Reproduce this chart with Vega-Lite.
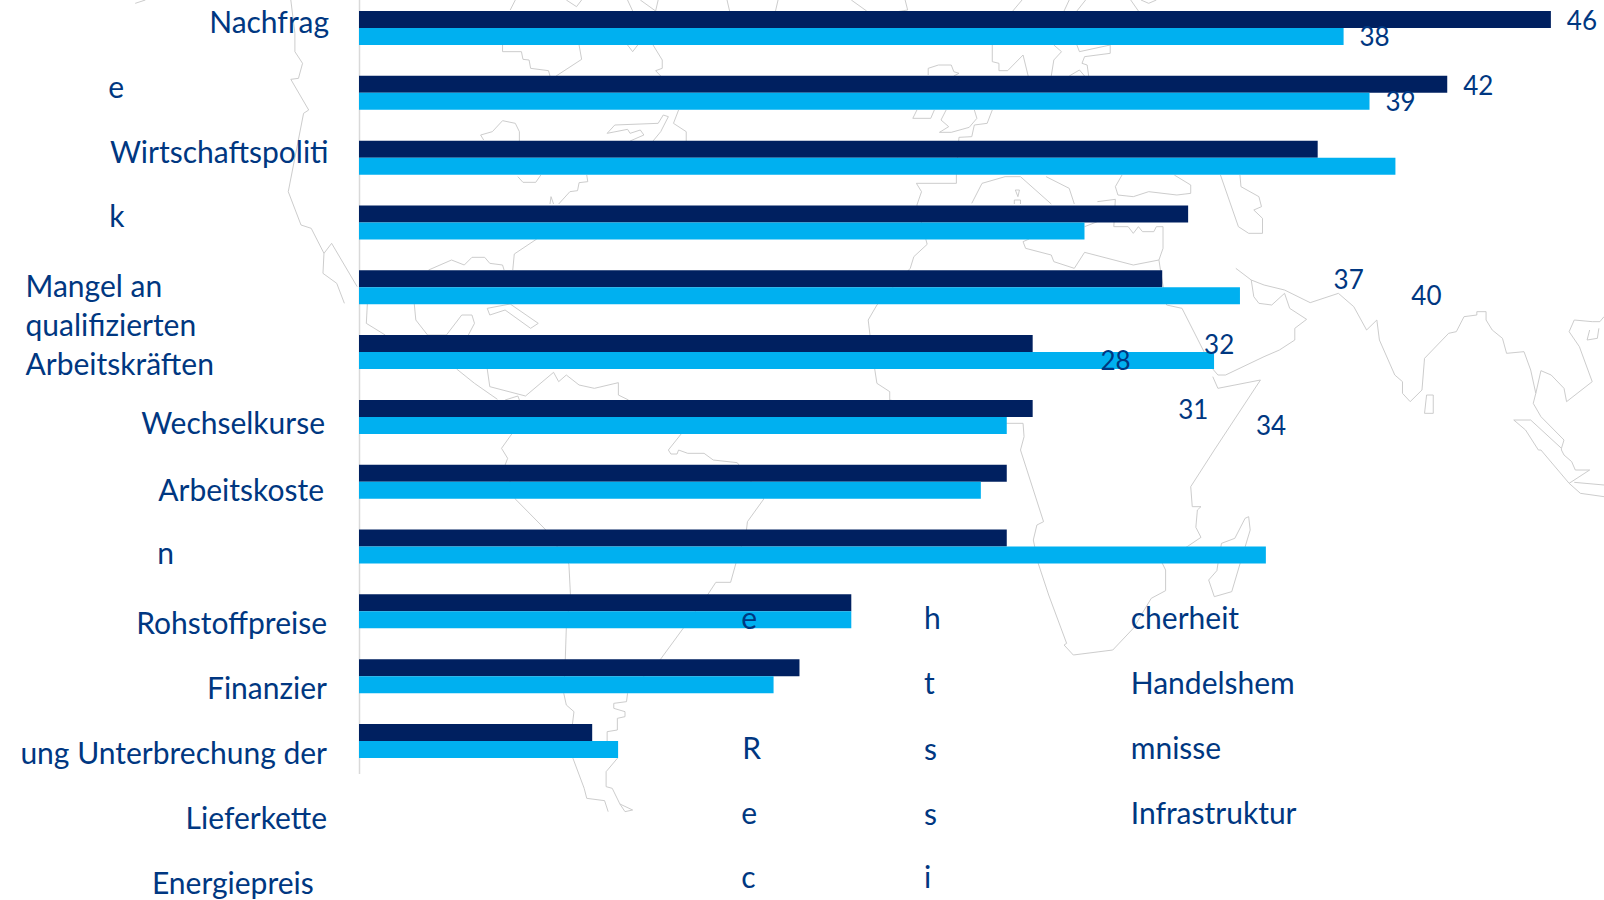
{"$schema":"https://vega.github.io/schema/vega-lite/v6.json","width":1604,"height":900,"padding":0,"autosize":"none","background":"white","config":{"view":{"stroke":null}},
"datasets":{
"bars":[{"kategorie":"Nachfrage","reihe":"A","wert":46},{"kategorie":"Nachfrage","reihe":"B","wert":38},{"kategorie":"Wirtschaftspolitik","reihe":"A","wert":42},{"kategorie":"Wirtschaftspolitik","reihe":"B","wert":39},{"kategorie":"Mangel an qualifizierten Arbeitskräften","reihe":"A","wert":37},{"kategorie":"Mangel an qualifizierten Arbeitskräften","reihe":"B","wert":40},{"kategorie":"Wechselkurse","reihe":"A","wert":32},{"kategorie":"Wechselkurse","reihe":"B","wert":28},{"kategorie":"Arbeitskosten","reihe":"A","wert":31},{"kategorie":"Arbeitskosten","reihe":"B","wert":34},{"kategorie":"Rohstoffpreise","reihe":"A","wert":26},{"kategorie":"Rohstoffpreise","reihe":"B","wert":33},{"kategorie":"Finanzierung","reihe":"A","wert":26},{"kategorie":"Finanzierung","reihe":"B","wert":25},{"kategorie":"Unterbrechung der Lieferkette","reihe":"A","wert":25},{"kategorie":"Unterbrechung der Lieferkette","reihe":"B","wert":24},{"kategorie":"Energiepreise","reihe":"A","wert":25},{"kategorie":"Energiepreise","reihe":"B","wert":35},{"kategorie":"Rechtssicherheit","reihe":"A","wert":19},{"kategorie":"Rechtssicherheit","reihe":"B","wert":19},{"kategorie":"Handelshemmnisse","reihe":"A","wert":17},{"kategorie":"Handelshemmnisse","reihe":"B","wert":16},{"kategorie":"Infrastruktur","reihe":"A","wert":9},{"kategorie":"Infrastruktur","reihe":"B","wert":10}],
"werte":[{"zeile":"Nachfrage","reihe":"A","wert":46},{"zeile":"Nachfrage","reihe":"B","wert":38},{"zeile":"Wirtschaftspolitik","reihe":"A","wert":42},{"zeile":"Wirtschaftspolitik","reihe":"B","wert":39},{"zeile":"Arbeitskosten","reihe":"A","wert":37},{"zeile":"Arbeitskosten","reihe":"B","wert":40},{"zeile":"Rohstoffpreise","reihe":"A","wert":32},{"zeile":"Rohstoffpreise","reihe":"B","wert":28},{"zeile":"Finanzierung","reihe":"A","wert":31},{"zeile":"Finanzierung","reihe":"B","wert":34}],
"texte":[{"t":"Nachfrag","X":645,"Y":93,"s":"r"},{"t":"Wirtschaftspoliti","X":644,"Y":483,"s":"r"},{"t":"Wechselkurse","X":637,"Y":1298,"s":"r"},{"t":"Arbeitskoste","X":635,"Y":1498,"s":"r"},{"t":"Rohstoffpreise","X":641,"Y":1898,"s":"r"},{"t":"Finanzier","X":641,"Y":2093,"s":"r"},{"t":"ung Unterbrechung der","X":641,"Y":2288,"s":"r"},{"t":"Lieferkette","X":641,"Y":2483,"s":"r"},{"t":"Energiepreis","X":615,"Y":2678,"s":"r"},{"t":"e","X":212,"Y":290,"s":"l"},{"t":"k","X":214,"Y":677,"s":"l"},{"t":"Mangel an","X":50,"Y":887,"s":"l"},{"t":"qualifizierten","X":50,"Y":1003,"s":"l"},{"t":"Arbeitskräften","X":50,"Y":1120,"s":"l"},{"t":"n","X":308,"Y":1688,"s":"l"},{"t":"e","X":1453,"Y":1883,"s":"l"},{"t":"R","X":1455,"Y":2272,"s":"l"},{"t":"e","X":1453,"Y":2468,"s":"l"},{"t":"c","X":1453,"Y":2660,"s":"l"},{"t":"h","X":1810,"Y":1883,"s":"l"},{"t":"t","X":1810,"Y":2078,"s":"l"},{"t":"s","X":1810,"Y":2275,"s":"l"},{"t":"s","X":1810,"Y":2470,"s":"l"},{"t":"i","X":1810,"Y":2658,"s":"l"},{"t":"cherheit","X":2213,"Y":1883,"s":"l"},{"t":"Handelshem","X":2213,"Y":2078,"s":"l"},{"t":"mnisse","X":2213,"Y":2273,"s":"l"},{"t":"Infrastruktur","X":2213,"Y":2468,"s":"l"}],
"karte":[
{"g":"a","X":570,"Y":0},{"g":"a","X":578,"Y":100},{"g":"a","X":578,"Y":155},{"g":"a","X":593,"Y":190},{"g":"a","X":585,"Y":235},{"g":"a","X":570,"Y":238},{"g":"a","X":605,"Y":330},{"g":"a","X":595,"Y":340},{"g":"a","X":565,"Y":575},{"g":"a","X":590,"Y":675},{"g":"a","X":610,"Y":685},{"g":"a","X":635,"Y":760},{"g":"a","X":633,"Y":820},{"g":"a","X":660,"Y":850},{"g":"a","X":675,"Y":910},
{"g":"b","X":635,"Y":760},{"g":"b","X":650,"Y":730},{"g":"b","X":700,"Y":860},
{"g":"d","X":985,"Y":135},{"g":"d","X":985,"Y":155},{"g":"d","X":1022,"Y":155},{"g":"d","X":1025,"Y":178},{"g":"d","X":1037,"Y":180},{"g":"d","X":1040,"Y":205},{"g":"d","X":1075,"Y":212},{"g":"d","X":1078,"Y":228},
{"g":"e","X":1135,"Y":135},{"g":"e","X":1140,"Y":178},{"g":"e","X":1090,"Y":228},
{"g":"f","X":1230,"Y":135},{"g":"f","X":1240,"Y":155},{"g":"f","X":1250,"Y":135},
{"g":"g","X":1280,"Y":135},{"g":"g","X":1298,"Y":180},{"g":"g","X":1298,"Y":205},{"g":"g","X":1285,"Y":212},{"g":"g","X":1295,"Y":228},
{"g":"h","X":1330,"Y":330},{"g":"h","X":1320,"Y":370},{"g":"h","X":1345,"Y":395},{"g":"h","X":1345,"Y":423},
{"g":"i","X":1280,"Y":423},{"g":"i","X":1295,"Y":395},{"g":"i","X":1310,"Y":350},{"g":"i","X":1300,"Y":345},{"g":"i","X":1290,"Y":370},{"g":"i","X":1205,"Y":375},{"g":"i","X":1190,"Y":400},{"g":"i","X":1230,"Y":388},{"g":"i","X":1235,"Y":400},{"g":"i","X":1255,"Y":390},{"g":"i","X":1262,"Y":405},{"g":"i","X":1235,"Y":423},
{"g":"j","X":948,"Y":420},{"g":"j","X":942,"Y":405},{"g":"j","X":965,"Y":395},{"g":"j","X":985,"Y":362},{"g":"j","X":1010,"Y":370},{"g":"j","X":1018,"Y":395},{"g":"j","X":1018,"Y":423},
{"g":"k","X":1015,"Y":530},{"g":"k","X":1025,"Y":547},{"g":"k","X":1050,"Y":547},{"g":"k","X":1060,"Y":525},
{"g":"l","X":1150,"Y":525},{"g":"l","X":1152,"Y":545},{"g":"l","X":1135,"Y":548},{"g":"l","X":1132,"Y":572},{"g":"l","X":1117,"Y":575},{"g":"l","X":1095,"Y":612},
{"g":"m","X":1078,"Y":612},{"g":"m","X":1080,"Y":590},{"g":"m","X":1085,"Y":612},
{"g":"n","X":1052,"Y":717},{"g":"n","X":1008,"Y":762},{"g":"n","X":1005,"Y":810},
{"g":"o","X":840,"Y":810},{"g":"o","X":885,"Y":780},{"g":"o","X":910,"Y":795},{"g":"o","X":925,"Y":772},{"g":"o","X":950,"Y":772},{"g":"o","X":960,"Y":790},{"g":"o","X":985,"Y":795},{"g":"o","X":988,"Y":810},
{"g":"p","X":720,"Y":912},{"g":"p","X":718,"Y":970},{"g":"p","X":755,"Y":1005},
{"g":"q","X":812,"Y":912},{"g":"q","X":815,"Y":960},{"g":"q","X":838,"Y":1005},{"g":"q","X":875,"Y":1005},{"g":"q","X":905,"Y":945},{"g":"q","X":925,"Y":945},{"g":"q","X":930,"Y":970},{"g":"q","X":918,"Y":1005},
{"g":"r","X":1000,"Y":912},{"g":"r","X":955,"Y":925},{"g":"r","X":960,"Y":945},{"g":"r","X":990,"Y":930},{"g":"r","X":1040,"Y":985},{"g":"r","X":1055,"Y":970},{"g":"r","X":1000,"Y":912},
{"g":"s","X":895,"Y":1107},{"g":"s","X":930,"Y":1150},{"g":"s","X":975,"Y":1198},
{"g":"t","X":955,"Y":1107},{"g":"t","X":960,"Y":1160},{"g":"t","X":1030,"Y":1188},{"g":"t","X":1085,"Y":1117},{"g":"t","X":1095,"Y":1145},{"g":"t","X":1110,"Y":1125},{"g":"t","X":1135,"Y":1155},{"g":"t","X":1165,"Y":1165},{"g":"t","X":1212,"Y":1148},{"g":"t","X":1212,"Y":1185},{"g":"t","X":1232,"Y":1200},
{"g":"u","X":990,"Y":1200},{"g":"u","X":1015,"Y":1188},{"g":"u","X":1018,"Y":1200},
{"g":"sw","X":1003,"Y":1302},{"g":"sw","X":983,"Y":1345},{"g":"sw","X":995,"Y":1375},{"g":"sw","X":990,"Y":1395},{"g":"sw","X":1010,"Y":1497},{"g":"sw","X":1070,"Y":1590},{"g":"sw","X":1115,"Y":1692},{"g":"sw","X":1118,"Y":1782},{"g":"sw","X":1110,"Y":1883},{"g":"sw","X":1108,"Y":1977},{"g":"sw","X":1105,"Y":2080},{"g":"sw","X":1110,"Y":2115},{"g":"sw","X":1125,"Y":2135},{"g":"sw","X":1122,"Y":2172},{"g":"sw","X":1123,"Y":2275},{"g":"sw","X":1145,"Y":2365},{"g":"sw","X":1150,"Y":2395},{"g":"sw","X":1185,"Y":2402},{"g":"sw","X":1192,"Y":2435},
{"g":"se","X":1335,"Y":1302},{"g":"se","X":1310,"Y":1350},{"g":"se","X":1315,"Y":1362},{"g":"se","X":1327,"Y":1362},{"g":"se","X":1330,"Y":1350},{"g":"se","X":1348,"Y":1360},{"g":"se","X":1380,"Y":1360},{"g":"se","X":1398,"Y":1380},{"g":"se","X":1445,"Y":1388},{"g":"se","X":1497,"Y":1497},{"g":"se","X":1465,"Y":1565},{"g":"se","X":1463,"Y":1590},{"g":"se","X":1442,"Y":1692},{"g":"se","X":1432,"Y":1747},{"g":"se","X":1403,"Y":1747},{"g":"se","X":1388,"Y":1782},{"g":"se","X":1340,"Y":1883},{"g":"se","X":1295,"Y":1977},{"g":"se","X":1230,"Y":2080},{"g":"se","X":1228,"Y":2105},{"g":"se","X":1203,"Y":2110},{"g":"se","X":1203,"Y":2125},{"g":"se","X":1225,"Y":2135},{"g":"se","X":1225,"Y":2150},{"g":"se","X":1210,"Y":2155},{"g":"se","X":1210,"Y":2190},{"g":"se","X":1190,"Y":2195},{"g":"se","X":1190,"Y":2223},{"g":"se","X":1210,"Y":2275},{"g":"se","X":1188,"Y":2315},{"g":"se","X":1188,"Y":2360},{"g":"se","X":1200,"Y":2365},{"g":"se","X":1215,"Y":2412},{"g":"se","X":1240,"Y":2430},{"g":"se","X":1225,"Y":2435},{"g":"se","X":1215,"Y":2412},
{"g":"a1","X":1773,"Y":0},{"g":"a1","X":1778,"Y":30},{"g":"a1","X":1758,"Y":35},
{"g":"a2","X":1668,"Y":0},{"g":"a2","X":1698,"Y":33},
{"g":"br","X":1818,"Y":225},{"g":"br","X":1818,"Y":205},{"g":"br","X":1838,"Y":195},{"g":"br","X":1863,"Y":195},{"g":"br","X":1868,"Y":215},{"g":"br","X":1878,"Y":220},{"g":"br","X":1868,"Y":228},
{"g":"ir","X":1796,"Y":330},{"g":"ir","X":1788,"Y":355},{"g":"ir","X":1823,"Y":355},{"g":"ir","X":1830,"Y":330},
{"g":"b2","X":1853,"Y":330},{"g":"b2","X":1843,"Y":360},{"g":"b2","X":1858,"Y":380},{"g":"b2","X":1840,"Y":397},{"g":"b2","X":1863,"Y":397},{"g":"b2","X":1898,"Y":382},{"g":"b2","X":1913,"Y":355},{"g":"b2","X":1908,"Y":330},
{"g":"af","X":1943,"Y":330},{"g":"af","X":1933,"Y":370},{"g":"af","X":1908,"Y":375},{"g":"af","X":1903,"Y":410},{"g":"af","X":1878,"Y":412},{"g":"af","X":1873,"Y":525},{"g":"af","X":1873,"Y":550},{"g":"af","X":1795,"Y":550},{"g":"af","X":1805,"Y":575},{"g":"af","X":1796,"Y":615},{"g":"af","X":1816,"Y":733},{"g":"af","X":1790,"Y":770},{"g":"af","X":1783,"Y":805},{"g":"af","X":1718,"Y":915},{"g":"af","X":1701,"Y":960},{"g":"af","X":1708,"Y":1050},{"g":"af","X":1718,"Y":1150},{"g":"af","X":1743,"Y":1175},{"g":"af","X":1743,"Y":1200},{"g":"af","X":1970,"Y":1270},{"g":"af","X":2003,"Y":1270},{"g":"af","X":2005,"Y":1310},{"g":"af","X":1998,"Y":1350},{"g":"af","X":2043,"Y":1565},{"g":"af","X":2030,"Y":1575},{"g":"af","X":2023,"Y":1620},{"g":"af","X":2033,"Y":1692},{"g":"af","X":2053,"Y":1785},{"g":"af","X":2088,"Y":1930},{"g":"af","X":2083,"Y":1935},{"g":"af","X":2101,"Y":1965},{"g":"af","X":2178,"Y":1950},{"g":"af","X":2218,"Y":1885},{"g":"af","X":2253,"Y":1795},{"g":"af","X":2281,"Y":1772},{"g":"af","X":2281,"Y":1710},{"g":"af","X":2273,"Y":1685},{"g":"af","X":2323,"Y":1640},{"g":"af","X":2350,"Y":1612},{"g":"af","X":2340,"Y":1582},{"g":"af","X":2343,"Y":1530},{"g":"af","X":2350,"Y":1520},{"g":"af","X":2333,"Y":1520},{"g":"af","X":2330,"Y":1460},{"g":"af","X":2376,"Y":1350},{"g":"af","X":2466,"Y":1140},{"g":"af","X":2383,"Y":1165},{"g":"af","X":2373,"Y":1130},
{"g":"ar","X":2418,"Y":805},{"g":"ar","X":2448,"Y":840},{"g":"ar","X":2453,"Y":890},{"g":"ar","X":2463,"Y":910},{"g":"ar","X":2488,"Y":915},{"g":"ar","X":2513,"Y":880},{"g":"ar","X":2523,"Y":925},{"g":"ar","X":2556,"Y":958},{"g":"ar","X":2533,"Y":985},{"g":"ar","X":2533,"Y":1020},{"g":"ar","X":2503,"Y":1050},{"g":"ar","X":2473,"Y":1070},{"g":"ar","X":2398,"Y":1125},{"g":"ar","X":2383,"Y":1125},{"g":"ar","X":2373,"Y":1107},{"g":"ar","X":2313,"Y":925},{"g":"ar","X":2283,"Y":915},{"g":"ar","X":2274,"Y":840},{"g":"ar","X":2268,"Y":780},
{"g":"as","X":2448,"Y":840},{"g":"as","X":2473,"Y":855},{"g":"as","X":2513,"Y":870},{"g":"as","X":2563,"Y":908},{"g":"as","X":2618,"Y":880},{"g":"as","X":2648,"Y":920},{"g":"as","X":2673,"Y":990},{"g":"as","X":2693,"Y":960},{"g":"as","X":2698,"Y":1020},{"g":"as","X":2728,"Y":1125},{"g":"as","X":2743,"Y":1145},{"g":"as","X":2743,"Y":1180},{"g":"as","X":2758,"Y":1205},{"g":"as","X":2781,"Y":1170},{"g":"as","X":2786,"Y":1075},{"g":"as","X":2833,"Y":1000},{"g":"as","X":2848,"Y":995},{"g":"as","X":2863,"Y":950},{"g":"as","X":2888,"Y":945},{"g":"as","X":2888,"Y":935},{"g":"as","X":2906,"Y":935},{"g":"as","X":2906,"Y":960},{"g":"as","X":2918,"Y":990},{"g":"as","X":2938,"Y":1015},{"g":"as","X":2946,"Y":1060},{"g":"as","X":2980,"Y":1055},{"g":"as","X":2993,"Y":1110},{"g":"as","X":3003,"Y":1180},{"g":"as","X":2998,"Y":1210},{"g":"as","X":3013,"Y":1250},{"g":"as","X":3058,"Y":1320},{"g":"as","X":3053,"Y":1345},
{"g":"sl","X":2790,"Y":1185},{"g":"sl","X":2803,"Y":1185},{"g":"sl","X":2803,"Y":1240},{"g":"sl","X":2786,"Y":1240},{"g":"sl","X":2790,"Y":1185},
{"g":"th","X":3003,"Y":1180},{"g":"th","X":3013,"Y":1112},{"g":"th","X":3033,"Y":1125},{"g":"th","X":3058,"Y":1165},{"g":"th","X":3063,"Y":1205},{"g":"th","X":3113,"Y":1145},{"g":"th","X":3088,"Y":1040},{"g":"th","X":3068,"Y":995},{"g":"th","X":3078,"Y":960},{"g":"th","X":3113,"Y":965},{"g":"th","X":3128,"Y":965},{"g":"th","X":3136,"Y":950},
{"g":"vn","X":3108,"Y":990},{"g":"vn","X":3103,"Y":1020},{"g":"vn","X":3123,"Y":1015},{"g":"vn","X":3126,"Y":985},
{"g":"su","X":2960,"Y":1260},{"g":"su","X":2993,"Y":1260},{"g":"su","X":3053,"Y":1345},{"g":"su","X":3053,"Y":1350},{"g":"su","X":3058,"Y":1365},{"g":"su","X":3073,"Y":1385},{"g":"su","X":3080,"Y":1410},{"g":"su","X":3108,"Y":1410},{"g":"su","X":3068,"Y":1450},{"g":"su","X":3013,"Y":1350},{"g":"su","X":3008,"Y":1350},{"g":"su","X":2983,"Y":1290},{"g":"su","X":2960,"Y":1260},
{"g":"bo","X":3068,"Y":1450},{"g":"bo","X":3090,"Y":1480},{"g":"bo","X":3136,"Y":1490},
{"g":"bo2","X":3078,"Y":1447},{"g":"bo2","X":3136,"Y":1455},
{"g":"me","X":2148,"Y":605},{"g":"me","X":2183,"Y":598},{"g":"me","X":2180,"Y":680},{"g":"me","X":2208,"Y":680},{"g":"me","X":2218,"Y":700},{"g":"me","X":2228,"Y":680},{"g":"me","X":2236,"Y":695},{"g":"me","X":2258,"Y":695},{"g":"me","X":2263,"Y":680},{"g":"me","X":2276,"Y":680},{"g":"me","X":2276,"Y":745},{"g":"me","X":2268,"Y":780},{"g":"me","X":2218,"Y":795},{"g":"me","X":2123,"Y":757},{"g":"me","X":2103,"Y":805},{"g":"me","X":2063,"Y":785},{"g":"me","X":2058,"Y":765},{"g":"me","X":2008,"Y":745},{"g":"me","X":2003,"Y":725},{"g":"me","X":2015,"Y":717},
{"g":"m2","X":2123,"Y":680},{"g":"m2","X":2148,"Y":665},
{"g":"bs","X":2196,"Y":525},{"g":"bs","X":2183,"Y":560},{"g":"bs","X":2188,"Y":585},{"g":"bs","X":2218,"Y":590},{"g":"bs","X":2248,"Y":575},{"g":"bs","X":2303,"Y":585},{"g":"bs","X":2330,"Y":580},{"g":"bs","X":2330,"Y":555},{"g":"bs","X":2298,"Y":525},
{"g":"cs","X":2388,"Y":525},{"g":"cs","X":2423,"Y":680},{"g":"cs","X":2443,"Y":700},{"g":"cs","X":2470,"Y":700},{"g":"cs","X":2470,"Y":655},{"g":"cs","X":2453,"Y":630},{"g":"cs","X":2468,"Y":620},{"g":"cs","X":2463,"Y":590},{"g":"cs","X":2428,"Y":560},{"g":"cs","X":2426,"Y":525},
{"g":"it","X":1903,"Y":610},{"g":"it","X":1923,"Y":550},{"g":"it","X":1968,"Y":530},{"g":"it","X":1998,"Y":530},{"g":"it","X":2058,"Y":612},
{"g":"i2","X":2048,"Y":530},{"g":"i2","X":2093,"Y":565},{"g":"i2","X":2103,"Y":612},
{"g":"sa","X":1988,"Y":570},{"g":"sa","X":1993,"Y":590},{"g":"sa","X":1996,"Y":570},{"g":"sa","X":1988,"Y":570},
{"g":"sc","X":1986,"Y":612},{"g":"sc","X":1986,"Y":600},{"g":"sc","X":1998,"Y":600},{"g":"sc","X":1998,"Y":612},
{"g":"n1","X":1943,"Y":135},{"g":"n1","X":1943,"Y":185},{"g":"n1","X":1956,"Y":190},{"g":"n1","X":1956,"Y":212},{"g":"n1","X":1973,"Y":212},{"g":"n1","X":2003,"Y":165},{"g":"n1","X":2013,"Y":228},
{"g":"n2","X":2063,"Y":135},{"g":"n2","X":2078,"Y":155},{"g":"n2","X":2063,"Y":180},{"g":"n2","X":2058,"Y":228},
{"g":"n3","X":2108,"Y":135},{"g":"n3","X":2113,"Y":155},{"g":"n3","X":2173,"Y":135},{"g":"n3","X":2173,"Y":160},{"g":"n3","X":2123,"Y":170},{"g":"n3","X":2118,"Y":190},{"g":"n3","X":2128,"Y":195},{"g":"n3","X":2131,"Y":228},
{"g":"n4","X":2093,"Y":228},{"g":"n4","X":2113,"Y":210},{"g":"n4","X":2123,"Y":228},
{"g":"t1","X":2001,"Y":0},{"g":"t1","X":1983,"Y":33},
{"g":"t2","X":2093,"Y":0},{"g":"t2","X":2083,"Y":33},
{"g":"t3","X":2125,"Y":0},{"g":"t3","X":2108,"Y":33},
{"g":"t4","X":2213,"Y":0},{"g":"t4","X":2228,"Y":33},
{"g":"t5","X":2233,"Y":0},{"g":"t5","X":2248,"Y":10},{"g":"t5","X":2263,"Y":0},
{"g":"t6","X":1010,"Y":0},{"g":"t6","X":1000,"Y":30},
{"g":"t7","X":1110,"Y":0},{"g":"t7","X":1130,"Y":20},{"g":"t7","X":1140,"Y":0},
{"g":"t8","X":1230,"Y":0},{"g":"t8","X":1240,"Y":33},
{"g":"t9","X":1255,"Y":0},{"g":"t9","X":1285,"Y":33},{"g":"t9","X":1290,"Y":0},
{"g":"t10","X":1425,"Y":0},{"g":"t10","X":1430,"Y":33},
{"g":"t11","X":1525,"Y":0},{"g":"t11","X":1520,"Y":33},
{"g":"t12","X":285,"Y":0},{"g":"t12","X":265,"Y":10},
{"g":"ma","X":2443,"Y":1550},{"g":"ma","X":2446,"Y":1590},{"g":"ma","X":2426,"Y":1692},{"g":"ma","X":2410,"Y":1775},{"g":"ma","X":2376,"Y":1790},{"g":"ma","X":2365,"Y":1740},{"g":"ma","X":2381,"Y":1712},{"g":"ma","X":2383,"Y":1692},{"g":"ma","X":2390,"Y":1630},{"g":"ma","X":2416,"Y":1615},{"g":"ma","X":2436,"Y":1555},{"g":"ma","X":2443,"Y":1550}
]},
"resolve":{"scale":{"x":"independent","y":"independent","yOffset":"independent","color":"independent"},"axis":{"x":"independent","y":"independent"}},
"layer":[
{"data":{"name":"karte"},"mark":{"type":"line","order":null,"stroke":"#c6c6c6","strokeWidth":0.9,"clip":true},"encoding":{"detail":{"field":"g"},"x":{"field":"X","type":"quantitative","axis":null,"scale":{"domain":[0,1568,3136],"range":[0,800,1604],"nice":false,"zero":false}},"y":{"field":"Y","type":"quantitative","axis":null,"scale":{"domain":[0,2700],"range":[0,900],"nice":false,"zero":false}}}},
{"data":{"name":"bars"},"mark":{"type":"bar","clip":false},"encoding":{"x":{"field":"wert","type":"quantitative","axis":null,"scale":{"domain":[0,48.05],"range":[359,1604],"nice":false}},"y":{"field":"kategorie","type":"nominal","scale":{"domain":["Nachfrage","Wirtschaftspolitik","Mangel an qualifizierten Arbeitskräften","Wechselkurse","Arbeitskosten","Rohstoffpreise","Finanzierung","Unterbrechung der Lieferkette","Energiepreise","Rechtssicherheit","Handelshemmnisse","Infrastruktur"],"range":[-4.4,773.4],"paddingInner":0.475,"paddingOuter":0.2375},"axis":{"title":null,"labels":false,"ticks":false,"domainColor":"#d9d9d9","domainWidth":1.5,"grid":false,"offset":-359}},"yOffset":{"field":"reihe","type":"nominal","scale":{"domain":["A","B"],"paddingInner":0,"paddingOuter":0}},"color":{"field":"reihe","type":"nominal","legend":null,"scale":{"domain":["A","B"],"range":["#002060","#00B0F0"]}}}},
{"data":{"name":"werte"},"mark":{"type":"text","align":"center","baseline":"middle","dx":31,"dy":2,"font":"Lato","fontSize":26,"fill":"#003781"},"encoding":{"x":{"field":"wert","type":"quantitative","axis":null,"scale":{"domain":[0,48.05],"range":[359,1604],"nice":false}},"y":{"field":"zeile","type":"nominal","axis":null,"scale":{"domain":["Nachfrage","Wirtschaftspolitik","Mangel an qualifizierten Arbeitskräften","Wechselkurse","Arbeitskosten","Rohstoffpreise","Finanzierung","Unterbrechung der Lieferkette","Energiepreise","Rechtssicherheit","Handelshemmnisse","Infrastruktur"],"range":[-4.4,773.4],"paddingInner":0.475,"paddingOuter":0.2375}},"yOffset":{"field":"reihe","type":"nominal","scale":{"domain":["A","B"],"range":[8.8,24.8],"padding":0}},"text":{"field":"wert","type":"quantitative"}}},
{"data":{"name":"texte"},"transform":[{"filter":"datum.s === 'r'"}],"mark":{"type":"text","align":"right","baseline":"alphabetic","dy":1.5,"font":"Lato","fontSize":30,"fill":"#003781"},"encoding":{"x":{"field":"X","type":"quantitative","axis":null,"scale":{"domain":[0,1568,3136],"range":[0,800,1604],"nice":false,"zero":false}},"y":{"field":"Y","type":"quantitative","axis":null,"scale":{"domain":[0,2700],"range":[0,900],"nice":false,"zero":false}},"text":{"field":"t"}}},
{"data":{"name":"texte"},"transform":[{"filter":"datum.s === 'l'"}],"mark":{"type":"text","align":"left","baseline":"alphabetic","dy":1.5,"font":"Lato","fontSize":30,"fill":"#003781"},"encoding":{"x":{"field":"X","type":"quantitative","axis":null,"scale":{"domain":[0,1568,3136],"range":[0,800,1604],"nice":false,"zero":false}},"y":{"field":"Y","type":"quantitative","axis":null,"scale":{"domain":[0,2700],"range":[0,900],"nice":false,"zero":false}},"text":{"field":"t"}}}
]}
